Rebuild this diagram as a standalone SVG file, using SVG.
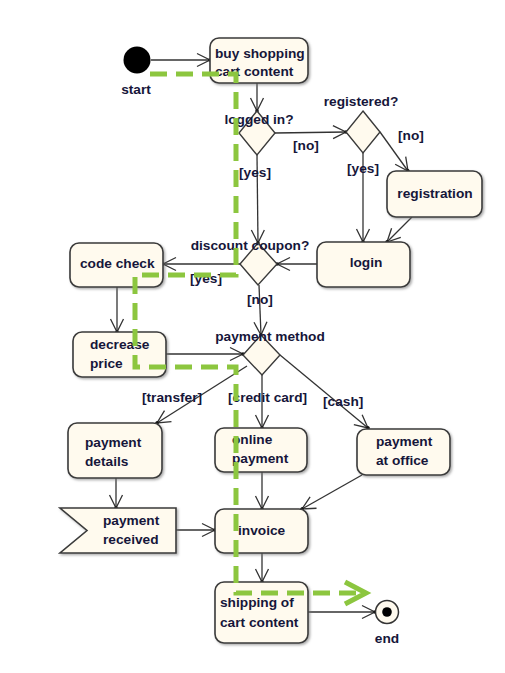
<svg xmlns="http://www.w3.org/2000/svg" width="505" height="673" viewBox="0 0 505 673">
<defs>
<style>
.box{fill:#fffaee;stroke:#3a3a3a;stroke-width:1.6;filter:url(#sh)}
.dia{fill:#fffaee;stroke:#3a3a3a;stroke-width:1.4}
.t{font-family:"Liberation Sans",Arial,sans-serif;font-weight:bold;font-size:13.7px;fill:#16163a}
.tm{text-anchor:middle}
.c{fill:none;stroke:#333;stroke-width:1.3;marker-end:url(#ar)}
.g{fill:none;stroke:#8cc63f;stroke-width:5}
</style>
<filter id="sh" x="-10%" y="-10%" width="130%" height="130%">
<feDropShadow dx="1.5" dy="1.5" stdDeviation="0.8" flood-color="#777" flood-opacity="0.6"/>
</filter>
<marker id="ar" markerUnits="userSpaceOnUse" markerWidth="16" markerHeight="16" viewBox="-14 -8 16 16" refX="0" refY="0" orient="auto">
<path d="M-13,-6.5 L0,0 L-13,6.5" fill="none" stroke="#333" stroke-width="1.3"/>
<circle cx="0" cy="0" r="1.8" fill="#111"/>
</marker>
</defs>
<rect width="505" height="673" fill="#ffffff"/>

<g id="connectors">
<line class="c" x1="151" y1="60" x2="210" y2="60"/>
<line class="c" x1="257" y1="83" x2="257" y2="111"/>
<line class="c" x1="275" y1="133" x2="346" y2="132"/>
<line class="c" x1="257" y1="155" x2="258" y2="243"/>
<line class="c" x1="380" y1="132" x2="408" y2="171"/>
<line class="c" x1="363" y1="153" x2="363" y2="242"/>
<line class="c" x1="412" y1="217" x2="387" y2="242"/>
<line class="c" x1="317" y1="264" x2="277" y2="264"/>
<line class="c" x1="240" y1="264" x2="163" y2="264"/>
<line class="c" x1="259" y1="285" x2="261" y2="335"/>
<line class="c" x1="117" y1="287" x2="117" y2="332"/>
<line class="c" x1="166" y1="354" x2="243" y2="354"/>
<line class="c" x1="247" y1="366" x2="157" y2="423"/>
<line class="c" x1="262" y1="375" x2="262" y2="428"/>
<line class="c" x1="280" y1="355" x2="368" y2="428"/>
<line class="c" x1="116" y1="478" x2="116" y2="508"/>
<line class="c" x1="262" y1="472" x2="262" y2="509"/>
<line class="c" x1="362" y1="475" x2="302" y2="509"/>
<line class="c" x1="176" y1="530" x2="215" y2="530"/>
<line class="c" x1="262" y1="553" x2="262" y2="582"/>
<line class="c" x1="308" y1="612" x2="375" y2="612"/>
</g>

<g id="start">
<circle cx="137" cy="60" r="13.5" fill="#000"/>
<text class="t tm" x="136" y="94">start</text>
</g>

<g id="buy">
<rect class="box" x="210" y="38" width="98" height="45" rx="9"/>
<text class="t" x="215" y="58">buy shopping</text>
<text class="t" x="215" y="76">cart content</text>
</g>

<g id="loggedin">
<polygon class="dia" points="257,111 275,133 257,155 239,133"/>
<text class="t tm" x="259" y="124">logged in?</text>
<text class="t" x="293" y="150">[no]</text>
<text class="t" x="239" y="177">[yes]</text>
</g>

<g id="registered">
<polygon class="dia" points="363,111 380,132 363,153 346,132"/>
<text class="t tm" x="361" y="106">registered?</text>
<text class="t" x="398" y="140">[no]</text>
<text class="t" x="347" y="173">[yes]</text>
</g>

<g id="registration">
<rect class="box" x="387" y="171" width="95" height="46" rx="9"/>
<text class="t tm" x="435" y="198">registration</text>
</g>

<g id="login">
<rect class="box" x="317" y="242" width="93" height="45" rx="9"/>
<text class="t tm" x="366" y="267">login</text>
</g>

<g id="discount">
<polygon class="dia" points="258,243 277,264 258,285 240,264"/>
<text class="t tm" x="250" y="250">discount coupon?</text>
<text class="t" x="190" y="283">[yes]</text>
<text class="t" x="247" y="304">[no]</text>
</g>

<g id="codecheck">
<rect class="box" x="70" y="243" width="93" height="44" rx="9"/>
<text class="t" x="80" y="268">code check</text>
</g>

<g id="decrease">
<rect class="box" x="73" y="332" width="93" height="45" rx="9"/>
<text class="t" x="90" y="349">decrease</text>
<text class="t" x="90" y="368">price</text>
</g>

<g id="payment">
<polygon class="dia" points="261,335 280,355 262,375 243,355"/>
<text class="t tm" x="270" y="341">payment method</text>
<text class="t" x="142" y="402">[transfer]</text>
<text class="t" x="228" y="402">[credit card]</text>
<text class="t" x="323" y="406">[cash]</text>
</g>

<g id="details">
<rect class="box" x="68" y="423" width="94" height="55" rx="9"/>
<text class="t" x="85" y="447">payment</text>
<text class="t" x="85" y="466">details</text>
</g>

<g id="online">
<rect class="box" x="215" y="428" width="92" height="44" rx="9"/>
<text class="t" x="232" y="444">online</text>
<text class="t" x="232" y="463">payment</text>
</g>

<g id="office">
<rect class="box" x="357" y="429" width="93" height="46" rx="9"/>
<text class="t" x="376" y="446">payment</text>
<text class="t" x="376" y="465">at office</text>
</g>

<g id="received">
<polygon class="box" points="60,508 176,508 176,553 60,553 87,530.5"/>
<text class="t" x="103" y="525">payment</text>
<text class="t" x="103" y="544">received</text>
</g>

<g id="invoice">
<rect class="box" x="215" y="509" width="93" height="44" rx="9"/>
<text class="t" x="238" y="535">invoice</text>
</g>

<g id="shipping">
<rect class="box" x="215" y="582" width="93" height="61" rx="9"/>
<text class="t" x="220" y="607">shipping of</text>
<text class="t" x="220" y="627">cart content</text>
</g>

<g id="end">
<circle cx="387" cy="612" r="11.5" fill="#fffaee" stroke="#333" stroke-width="1.5"/>
<circle cx="387" cy="612" r="4.8" fill="#000"/>
<text class="t tm" x="387" y="643">end</text>
</g>

<g id="path-highlight">
<path class="g" stroke-dasharray="17 9" d="M150,74 H236 V275 H135 V367 H236 V593 H363"/>
<polyline class="g" points="345,582 366,593 345,604"/>
</g>
</svg>
